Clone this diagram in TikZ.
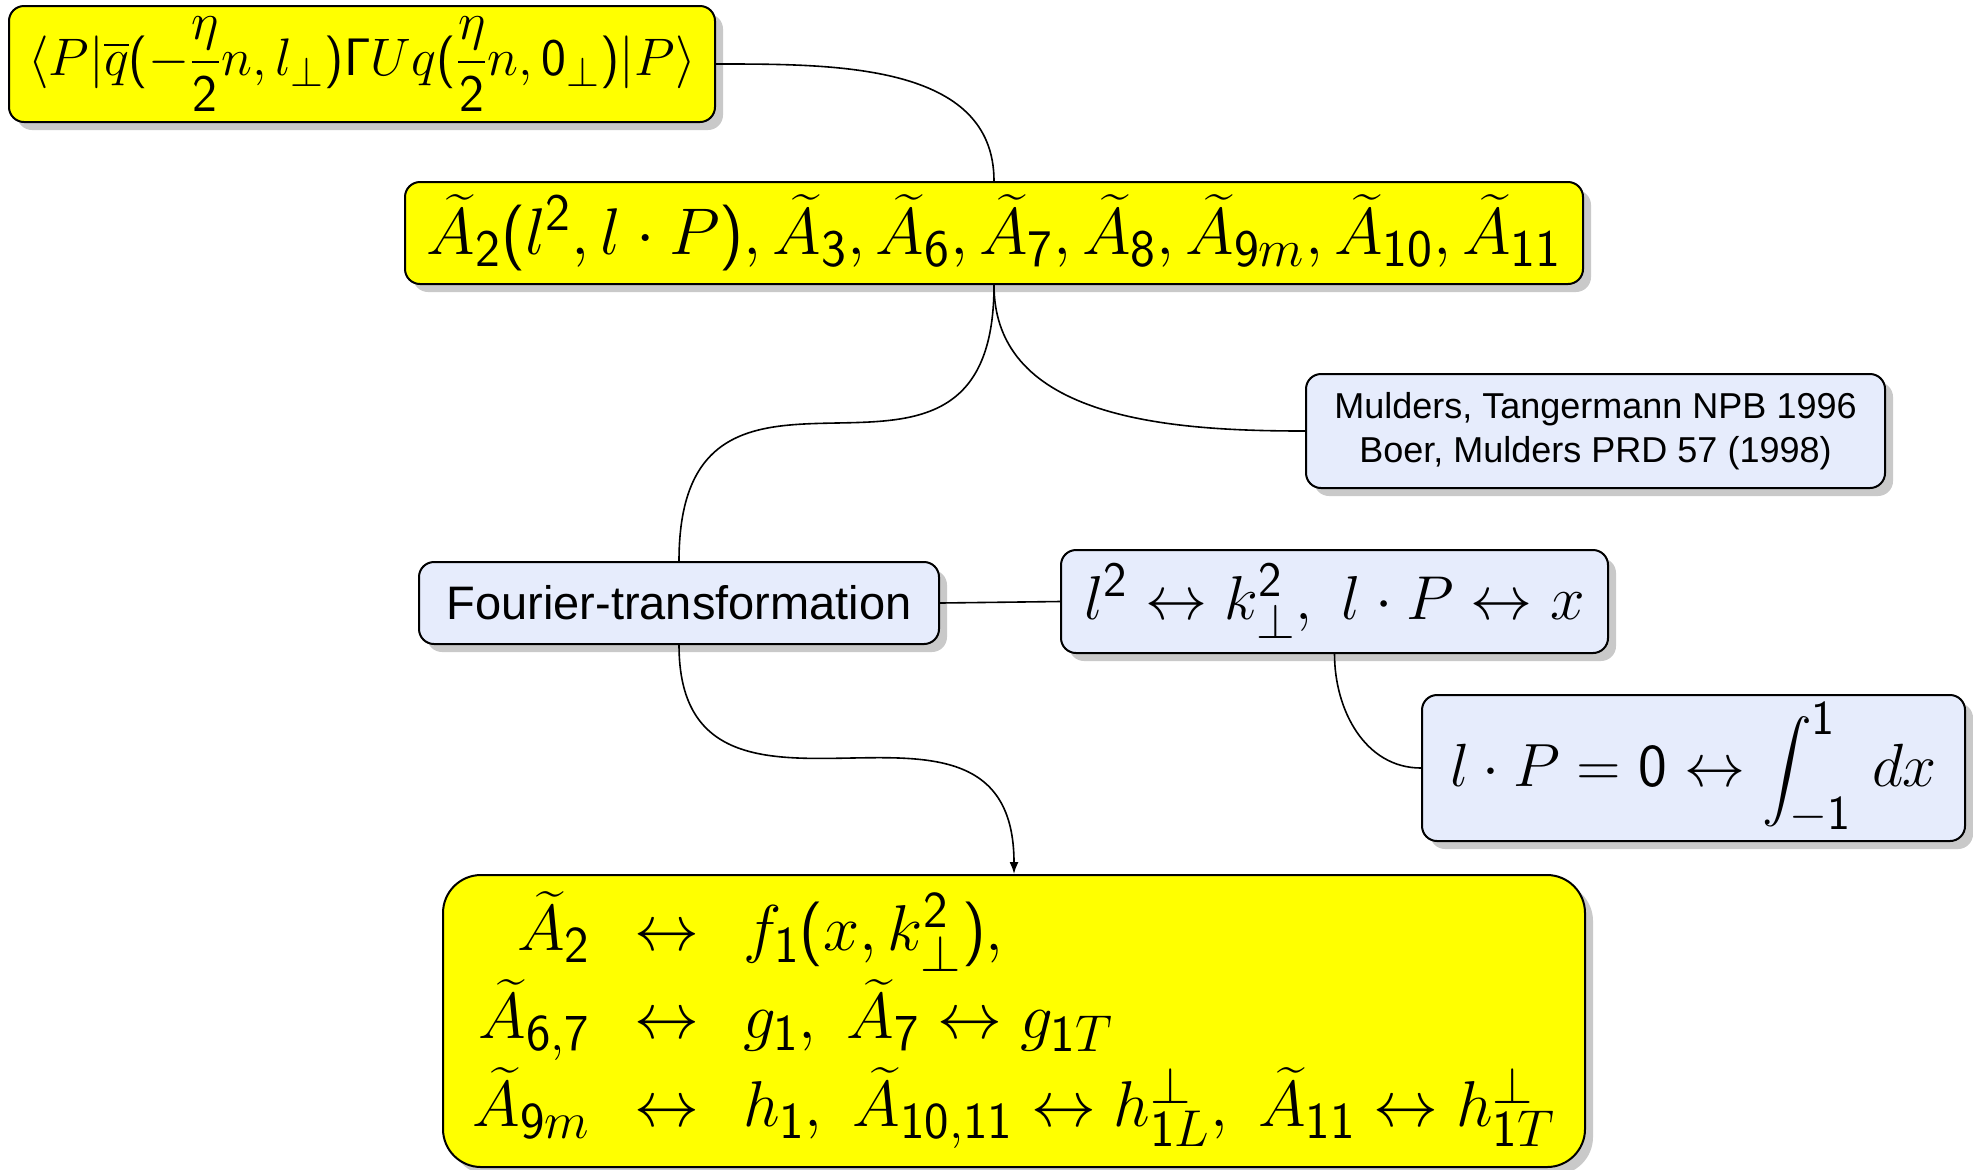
\documentclass[tikz,border=0pt]{standalone}
\usepackage{fix-cm}
\usepackage{amsmath}
\usepackage[no-math]{fontspec}
\newfontfamily\helv{Liberation Sans}
\DeclareSymbolFont{operators}{OT1}{cmss}{m}{n}
\renewcommand{\defaultscriptratio}{0.8}
\renewcommand{\defaultscriptscriptratio}{0.65}
\usetikzlibrary{shadows,arrows.meta}
\definecolor{lightbluebox}{RGB}{230,236,252}
\definecolor{boxyellow}{RGB}{255,255,0}
\begin{document}
\begin{tikzpicture}[x=0.5pt,y=-0.5pt,
  box/.style={draw=black, line width=1pt, rounded corners=7.5pt, inner sep=0pt, align=center,
    drop shadow={shadow xshift=4pt, shadow yshift=-4pt, opacity=0.3, fill=black!70}},
  ybox/.style={box, fill=boxyellow},
  bbox/.style={box, fill=lightbluebox},
  conn/.style={line width=0.8pt}]
\useasboundingbox (0,0) rectangle (1973,1169);

\node[ybox, minimum width=353pt, minimum height=58pt, font=\fontsize{26.4}{30}\selectfont] (op) at (362,64)
  {$\langle P|\overline{q}(-\dfrac{\eta}{2}n,l_\perp)\Gamma U q(\dfrac{\eta}{2}n,0_\perp)|P\rangle$};

\node[ybox, minimum width=589pt, minimum height=51pt, font=\fontsize{33}{38}\selectfont] (amp) at (994,233)
  {$\widetilde{A}_2(l^2,l\cdot P),\widetilde{A}_3,\widetilde{A}_6,\widetilde{A}_7,\widetilde{A}_8,\widetilde{A}_{9m},\widetilde{A}_{10},\widetilde{A}_{11}$};

\node[bbox, minimum width=289.5pt, minimum height=57pt, font=\helv\fontsize{18}{22}\selectfont] (ref) at (1595.5,431)
  {Mulders, Tangermann NPB 1996\\Boer, Mulders PRD 57 (1998)};

\node[bbox, minimum width=260pt, minimum height=41pt, font=\helv\fontsize{23.5}{28}\selectfont] (ft) at (679,603)
  {Fourier-transformation};

\node[bbox, minimum width=273.5pt, minimum height=51.5pt, font=\fontsize{31}{36}\selectfont] (map) at (1334.5,601.5)
  {$l^2\leftrightarrow k_\perp^2,\ l\cdot P\leftrightarrow x$};

\node[bbox, minimum width=271.5pt, minimum height=73pt, font=\fontsize{30.5}{36}\selectfont] (int) at (1693.5,768)
  {$l\cdot P=0\leftrightarrow \displaystyle\int_{-1}^{1}\,dx$};

\node[ybox, rounded corners=19pt, minimum width=571pt, minimum height=146pt, font=\fontsize{32.4}{44}\selectfont] (tmd) at (1014,1021)
  {\setlength{\arraycolsep}{11pt}$\begin{array}{rcl}
   \widetilde{A}_2 & \leftrightarrow & f_1(x,k_\perp^2),\\
   \widetilde{A}_{6,7} & \leftrightarrow & g_1,\ \widetilde{A}_7\leftrightarrow g_{1T}\\
   \widetilde{A}_{9m} & \leftrightarrow & h_1,\ \widetilde{A}_{10,11}\leftrightarrow h_{1L}^\perp,\ \widetilde{A}_{11}\leftrightarrow h_{1T}^\perp
  \end{array}$};

\draw[conn] (op.east) to[out=0,in=90] (amp.north);
\draw[conn] (amp.south) to[out=-90,in=90,looseness=1.65] (ft.north);
\draw[conn] (amp.south) to[out=-90,in=180] (ref.west);
\draw[conn] (ft.east) -- (map.west);
\draw[conn] (map.south) to[out=-90,in=180] (int.west);
\draw[conn, -{Latex[length=6pt,width=4.5pt]}] (ft.south) to[out=-90,in=90,looseness=1.45] (tmd.north);
\end{tikzpicture}
\end{document}
